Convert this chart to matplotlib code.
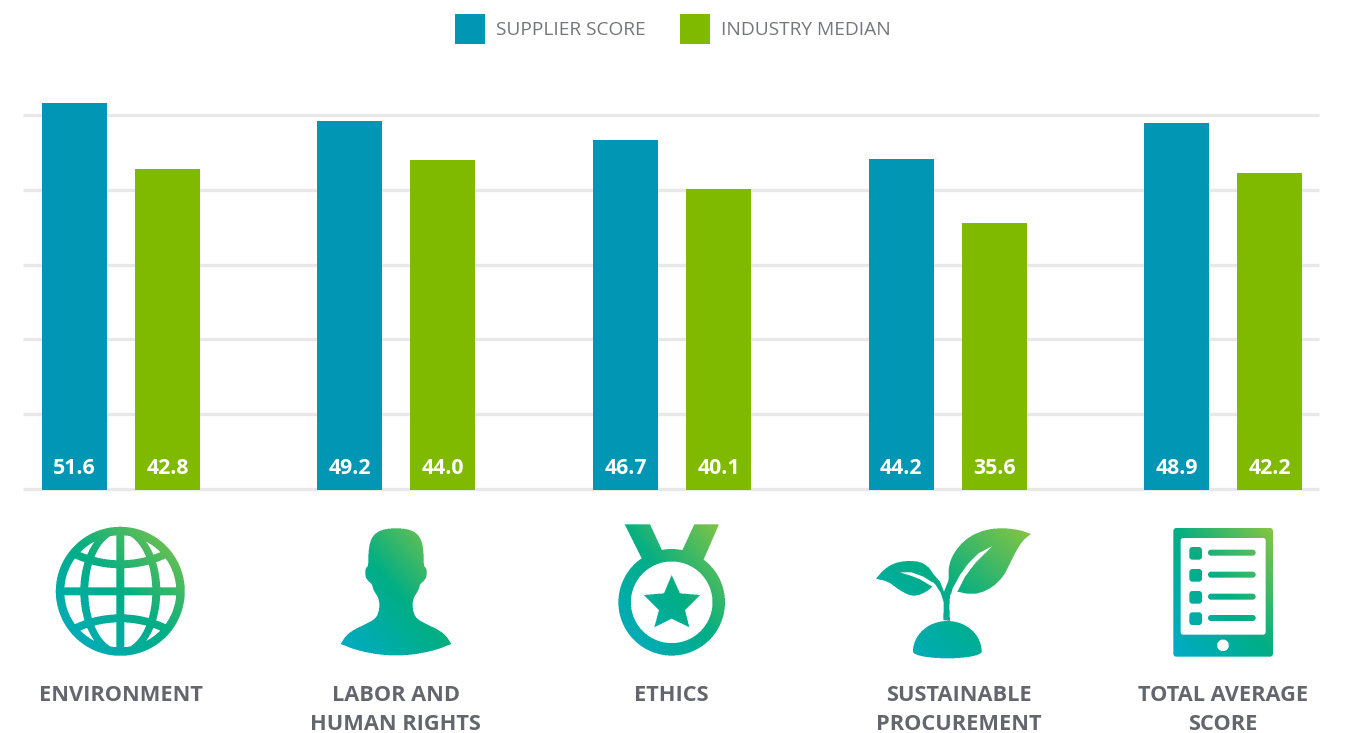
import matplotlib
matplotlib.use('Agg')
import matplotlib.pyplot as plt
import numpy as np
from matplotlib.colors import LinearSegmentedColormap
from matplotlib.path import Path

W, H = 1347, 733

categories = ['ENVIRONMENT', 'LABOR AND\nHUMAN RIGHTS', 'ETHICS', 'SUSTAINABLE\nPROCUREMENT', 'TOTAL AVERAGE\nSCORE']
supplier = [51.6, 49.2, 46.7, 44.2, 48.9]
median = [42.8, 44.0, 40.1, 35.6, 42.2]
grid_ticks = [0, 10, 20, 30, 40, 50]
label_x = [120.5, 395.5, 671, 958.5, 1223]

TEAL = '#0096B4'
GREEN = '#7FBA00'
GREY = '#64666E'
plt.rcParams['font.family'] = ['Open Sans', 'DejaVu Sans']

grad = LinearSegmentedColormap.from_list('g', ['#00ABCB', '#00AE85', '#8CC63F'])


def chaikin(pts, n=2):
    p = np.array(pts, float)
    for _ in range(n):
        q = np.roll(p, -1, axis=0)
        p = np.column_stack([0.75 * p + 0.25 * q, 0.25 * p + 0.75 * q]).reshape(-1, 2)
    return p


def poly(X, Y, pts, ox, oy, smooth=0):
    p = np.array(pts, float)
    p = np.column_stack([ox + p[:, 0] / 3, oy + p[:, 1] / 3])
    if smooth:
        p = chaikin(p, smooth)
    m = Path(p).contains_points(np.column_stack([X.ravel(), Y.ravel()]))
    return m.reshape(X.shape)


def rrect(X, Y, x0, y0, x1, y1, r):
    cx, cy = (x0 + x1) / 2, (y0 + y1) / 2
    dx = np.abs(X - cx) - (x1 - x0) / 2 + r
    dy = np.abs(Y - cy) - (y1 - y0) / 2 + r
    return np.hypot(np.maximum(dx, 0), np.maximum(dy, 0)) + np.minimum(np.maximum(dx, dy), 0) <= r


def globe(X, Y):
    cx, cy = 120.3, 591.3
    dx, dy = X - cx, Y - cy
    r = np.hypot(dx, dy)
    inside = r <= 64.5
    ring = inside & (r >= 56)
    lines = (np.abs(dx) <= 4) | (np.abs(dy) <= 4)
    ell = ((dx / 40) ** 2 + (dy / 65) ** 2 <= 1) & ((dx / 32) ** 2 + (dy / 58) ** 2 >= 1)
    d = np.hypot(dx, np.abs(dy) - 132)
    arcs = (d >= 101) & (d <= 109)
    return ring | (inside & (lines | ell | arcs))


def person(X, Y):
    half = [(0, 54), (40, 58), (65, 72), (78, 95), (83, 130), (83, 168), (92, 175), (92, 200), (84, 213),
            (72, 222), (68, 240), (50, 268), (50, 300), (60, 325), (90, 342), (125, 358), (150, 376),
            (166, 402), (166, 402), (120, 420), (60, 433), (0, 437)]
    right = [(1098 + a, b) for a, b in half]
    left = [(1098 - a, b) for a, b in half[::-1][1:-1]]
    return poly(X, Y, right + left, 30, 510, smooth=2)


def medal(X, Y):
    cx, cy = 671.7, 602.3
    r = np.hypot(X - cx, Y - cy)
    strap1 = poly(X, Y, [(104, 43), (180, 43), (225, 140), (160, 155)], 590, 510)
    strap2 = poly(X, Y, [(313, 43), (387, 43), (338, 155), (268, 140)], 590, 510)
    star = poly(X, Y, [(245, 195), (270, 250), (330, 255), (285, 300), (298, 352),
                       (245, 326), (193, 352), (207, 300), (162, 255), (222, 250)], 590, 510)
    return (r <= 53.3) & (r >= 40.8) | ((strap1 | strap2) & (r >= 40.8)) | star


def plant(X, Y):
    big = poly(X, Y, [(483, 42), (483, 42), (450, 30), (400, 24), (350, 28), (300, 48), (265, 80), (243, 115),
                      (235, 150), (237, 178), (228, 200), (228, 222), (250, 222), (262, 214), (290, 222),
                      (330, 220), (370, 200), (400, 170), (420, 130), (440, 90), (460, 60)], 870, 520, smooth=1)
    vein = poly(X, Y, [(368, 78), (325, 100), (295, 130), (270, 165), (248, 205), (240, 235), (262, 216),
                       (285, 170), (315, 130), (345, 100)], 870, 520)
    stem = poly(X, Y, [(222, 215), (220, 300), (240, 303), (238, 260), (240, 228), (248, 205), (237, 178),
                       (228, 200)], 870, 520)
    small = poly(X, Y, [(18, 176), (18, 176), (40, 150), (70, 130), (110, 122), (150, 125), (175, 140), (190, 165),
                        (187, 200), (187, 200), (170, 215), (140, 228), (115, 225), (85, 208), (55, 185)],
                 870, 520, smooth=1)
    streak = poly(X, Y, [(90, 157), (125, 157), (160, 170), (195, 192), (187, 200), (150, 178), (125, 168)], 870, 520)
    branch = poly(X, Y, [(175, 140), (190, 162), (210, 185), (222, 215), (222, 250), (212, 218), (195, 192),
                         (175, 175)], 870, 520)
    ex, ey = 870 + 232 / 3, 520 + 395 / 3
    up = ((X - ex) / (103 / 3)) ** 2 + ((Y - ey) / (92 / 3)) ** 2 <= 1
    low = ((X - ex) / (103 / 3)) ** 2 + ((Y - ey) / (20 / 3)) ** 2 <= 1
    dome = (up & (Y <= ey)) | (low & (Y > ey))
    return ((big | small | branch) & ~(vein | streak)) | stem | dome


def tablet(X, Y):
    def z(a, b):
        return 1100 + a / 3, 510 + b / 3
    x0, y0 = z(220, 54)
    x1, y1 = z(519, 440)
    m = rrect(X, Y, x0, y0, x1, y1, 3)
    sx0, sy0 = z(242, 84)
    sx1, sy1 = z(497, 374)
    m &= ~rrect(X, Y, sx0, sy0, sx1, sy1, 2.5)
    bx, by = z(369, 406)
    m &= np.hypot(X - bx, Y - by) > 5.8
    for top in [111, 177, 243, 307]:
        a0, b0 = z(268, top)
        a1, b1 = z(306, top + 38)
        m |= rrect(X, Y, a0, b0, a1, b1, 3)
        a0, b0 = z(324, top + 8)
        a1, b1 = z(467, top + 26)
        m |= rrect(X, Y, a0, b0, a1, b1, 3)
    return m


icons = [(globe, 55, 526, 186, 657), (person, 340, 526, 452, 657), (medal, 617, 523, 727, 657),
         (plant, 875, 526, 1033, 660), (tablet, 1172, 527, 1275, 658)]

fig = plt.figure(figsize=(W / 100, H / 100), dpi=100, facecolor='white')

# main axes: zero sits at y=488.7 px, 7.47 px per unit
x_unit = 275.55
zero_y = 488.7
y_top = 60
ax = fig.add_axes([23 / W, 1 - zero_y / H, (1319 - 23) / W, (zero_y - y_top) / H])
ax.set_xlim((23 - 120.9) / x_unit, (1319 - 120.9) / x_unit)
ax.set_ylim(0, (zero_y - y_top) / 7.47)
ax.patch.set_alpha(0)
for s in ax.spines.values():
    s.set_visible(False)
ax.set_xticks([])
ax.set_yticks(grid_ticks)
ax.tick_params(left=False, labelleft=False)
ax.grid(axis='y', color='#E8E8E8', lw=2.4, solid_capstyle='butt')
for l in ax.get_ygridlines():
    l.set_clip_on(False)
ax.set_axisbelow(True)

xs = np.arange(len(categories))
off = 46.5 / x_unit
bw = 65 / x_unit
b1 = ax.bar(xs - off, np.array(supplier) + 0.2, bw, bottom=-0.2, color=TEAL, clip_on=False, label='SUPPLIER SCORE')
b2 = ax.bar(xs + off, np.array(median) + 0.2, bw, bottom=-0.2, color=GREEN, clip_on=False, label='INDUSTRY MEDIAN')

for i in range(len(categories)):
    ax.text(xs[i] - off, 1.95, '%.1f' % supplier[i], color='white', ha='center', va='baseline', fontsize=15.3, fontweight='bold')
    ax.text(xs[i] + off, 1.95, '%.1f' % median[i], color='white', ha='center', va='baseline', fontsize=15.3, fontweight='bold')

leg = fig.legend(handles=[b1, b2], ncols=2, frameon=False, loc='upper left', bbox_to_anchor=(455 / W, 1 - 14 / H),
                 fontsize=13.8, labelcolor='#75777E', handlelength=1.565, handleheight=2.03,
                 borderpad=0, borderaxespad=0, handletextpad=0.57, columnspacing=1.8, labelspacing=0)

# overlay in image pixels for the icons and category names
over = fig.add_axes([0, 0, 1, 1])
over.set_xlim(0, W)
over.set_ylim(H, 0)
over.axis('off')
over.patch.set_alpha(0)

ss = 3
for fn, x0, y0, x1, y1 in icons:
    xx = x0 + (np.arange((x1 - x0) * ss) + 0.5) / ss
    yy = y0 + (np.arange((y1 - y0) * ss) + 0.5) / ss
    X, Y = np.meshgrid(xx, yy)
    mask = fn(X, Y).astype(float)
    alpha = mask.reshape(y1 - y0, ss, x1 - x0, ss).mean(axis=(1, 3))
    t = ((X[ss // 2::ss, ss // 2::ss] - x0) / (x1 - x0) + (y1 - Y[ss // 2::ss, ss // 2::ss]) / (y1 - y0)) / 2
    rgba = grad(t)
    rgba[..., 3] = alpha
    over.imshow(rgba, extent=(x0, x1, y1, y0), interpolation='nearest', aspect='auto', zorder=3)
over.set_xlim(0, W)
over.set_ylim(H, 0)

for cat, x in zip(categories, label_x):
    for j, line in enumerate(cat.split('\n')):
        over.text(x, 701 + 29 * j, line, ha='center', va='baseline', color=GREY, fontsize=15.7, fontweight='bold')

fig.savefig('out.png', dpi=100, facecolor='white')
